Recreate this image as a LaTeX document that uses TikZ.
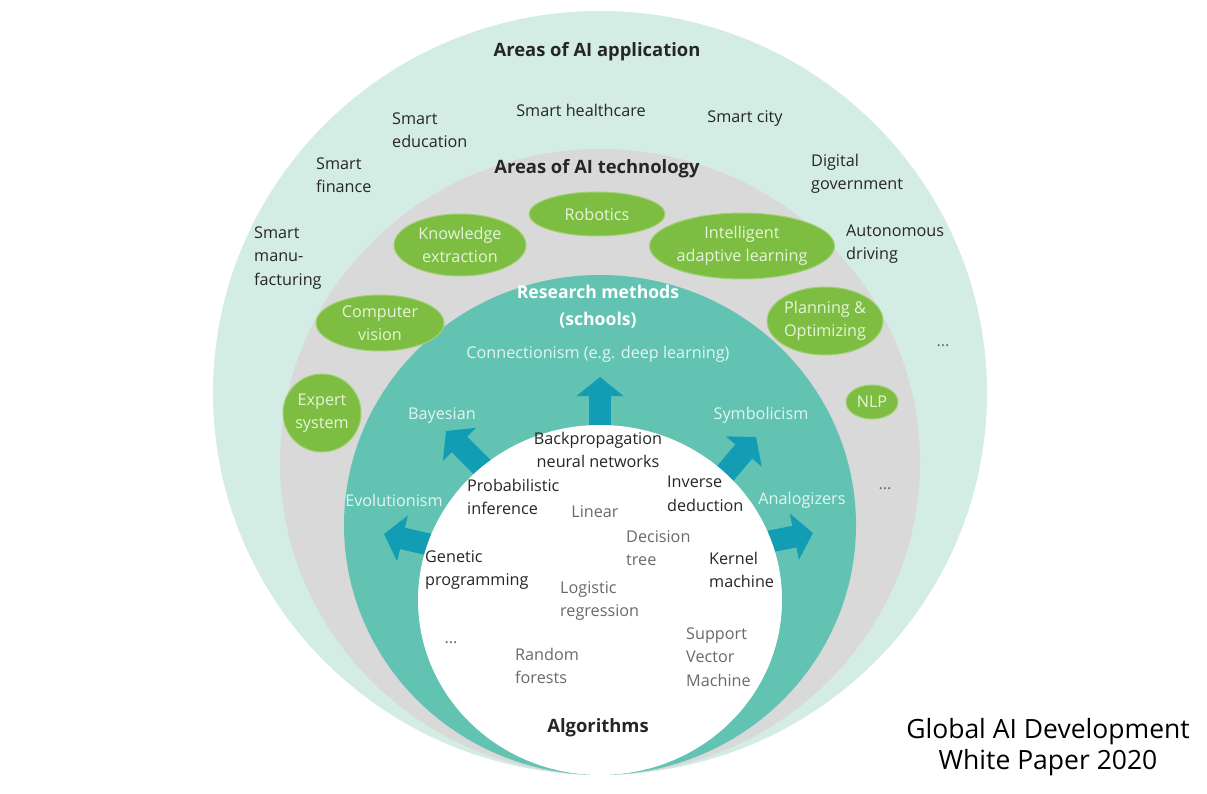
\documentclass[tikz,border=0pt]{standalone}
\usepackage{fontspec}
\setmainfont{Open Sans}
\newfontfamily\footfont{Open Sans}
\usetikzlibrary{shapes.geometric,arrows.meta}
\definecolor{appmint}{HTML}{D4EDE4}
\definecolor{techgray}{HTML}{D9D9D9}
\definecolor{schoolteal}{HTML}{63C3B3}
\definecolor{arrowblue}{HTML}{129DB5}
\definecolor{techgreen}{HTML}{7CBD42}
\definecolor{techrim}{HTML}{A3D174}
\definecolor{paleink}{HTML}{E6F5DA}
\definecolor{schoolink}{HTML}{E2F5F1}
\definecolor{darkink}{HTML}{262626}
\definecolor{grayink}{HTML}{6A6A6A}
\tikzset{
  txt/.style={font=\fontsize{16.2}{23.5}\selectfont,inner sep=0pt},
  appnote/.style={txt,text=darkink,align=left,anchor=west},
  heading/.style={font=\fontsize{18.4}{21}\selectfont\bfseries,inner sep=0pt,text=darkink},
  techbox/.style={ellipse,fill=techgreen,draw=techrim,line width=1pt,inner sep=0pt,
    txt,text=paleink,align=center},
  school/.style={txt,text=schoolink},
  algo/.style={txt,text=darkink,align=left,anchor=west},
  algolight/.style={txt,text=grayink,align=left,anchor=west},
  schoolarrow/.style={arrowblue,line width=22pt,
    -{Triangle[length=19pt,width=46pt]}}
}
\begin{document}
\begin{tikzpicture}[x=1pt,y=-1pt]
  \useasboundingbox (0,0) rectangle (1207,794);
  \fill[appmint] (600,393) ellipse (387 and 382);
  \fill[techgray] (600,462) ellipse (320 and 313);
  \fill[schoolteal] (600,525) ellipse (256 and 250);

  \node[heading] (appTitle) at (597,52) {Areas of AI application};
  \node[txt,text=darkink] (health) at (581,110) {Smart healthcare};
  \node[appnote] (edu) at (392,130) {Smart\\education};
  \node[txt,text=darkink] (city) at (745,119) {Smart city};
  \node[appnote] (finance) at (316,175) {Smart\\finance};
  \node[appnote] (gov) at (811,174) {Digital\\government};
  \node[appnote] (manu) at (254,258) {Smart\\manu-\\facturing};
  \node[appnote] (auto) at (846,244) {Autonomous\\driving};
  \node[txt,text=grayink] (appMore) at (943,346) {...};

  \node[heading] (techTitle) at (597,169) {Areas of AI technology};
  \node[techbox,minimum width=132pt,minimum height=62pt] (know) at (460,245) {Knowledge\\extraction};
  \node[techbox,minimum width=136pt,minimum height=44pt] (robot) at (597,214) {Robotics};
  \node[techbox,minimum width=146pt,minimum height=66pt] (adapt) at (742,246) {Intelligent\\adaptive learning};
  \node[techbox,minimum width=128pt,minimum height=56pt] (vision) at (380,323) {Computer\\vision};
  \node[techbox,minimum width=108pt,minimum height=68pt] (plan) at (825,321) {Planning \&\\Optimizing};
  \node[techbox,minimum width=78pt,minimum height=78pt] (expert) at (322,413) {Expert\\system};
  \node[techbox,minimum width=52pt,minimum height=34pt] (nlp) at (872,402) {NLP};
  \node[txt,text=grayink] (techMore) at (885,489) {...};

  \node[heading,text=white,align=center,font=\fontsize{17.6}{27}\selectfont\bfseries] (schools) at (598,307) {Research methods\\(schools)};
  \node[school] (conn) at (598,354) {Connectionism (e.g. deep learning)};
  \node[school] (bayes) at (442,415) {Bayesian};
  \node[school] (symb) at (761,415) {Symbolicism};
  \node[school] (evo) at (394,500) {Evolutionism};
  \node[school] (anal) at (802,500) {Analogizers};

  \coordinate (connTail) at (600,432);
  \coordinate (connTip) at (600,377);
  \coordinate (bayesTail) at (492,477);
  \coordinate (bayesTip) at (446,431);
  \coordinate (symbTail) at (718,482);
  \coordinate (symbTip) at (756,437);
  \coordinate (evoTail) at (435,546);
  \coordinate (evoTip) at (384,534);
  \coordinate (analTail) at (762,543);
  \coordinate (analTip) at (813,533);
  \foreach \a/\b in {connTail/connTip,bayesTail/bayesTip,symbTail/symbTip,evoTail/evoTip,analTail/analTip}
    \draw[schoolarrow] (\a) -- (\b);

  \fill[white] (600,600) ellipse (182 and 175);

  \node[txt,text=darkink,align=center] (backprop) at (598,450) {Backpropagation\\neural networks};
  \node[algo] (prob) at (467,497) {Probabilistic\\inference};
  \node[algo] (inv) at (667,494) {Inverse\\deduction};
  \node[txt,text=grayink] (linear) at (595,512) {Linear};
  \node[algolight] (dtree) at (626,548) {Decision\\tree};
  \node[algo] (genetic) at (425,570) {Genetic\\programming};
  \node[algo] (kernel) at (709,570) {Kernel\\machine};
  \node[algolight] (logit) at (560,601) {Logistic\\regression};
  \node[txt,text=grayink] (algoMore) at (451,643) {...};
  \node[algolight] (forest) at (515,666) {Random\\forests};
  \node[algolight] (svm) at (686,657) {Support\\Vector\\Machine};
  \node[heading] (algTitle) at (598,728) {Algorithms};

  \node[font=\footfont\fontsize{26.5}{31}\selectfont,align=center,inner sep=0pt] (source) at (1048,747) {Global AI Development\\White Paper 2020};
\end{tikzpicture}
\end{document}
